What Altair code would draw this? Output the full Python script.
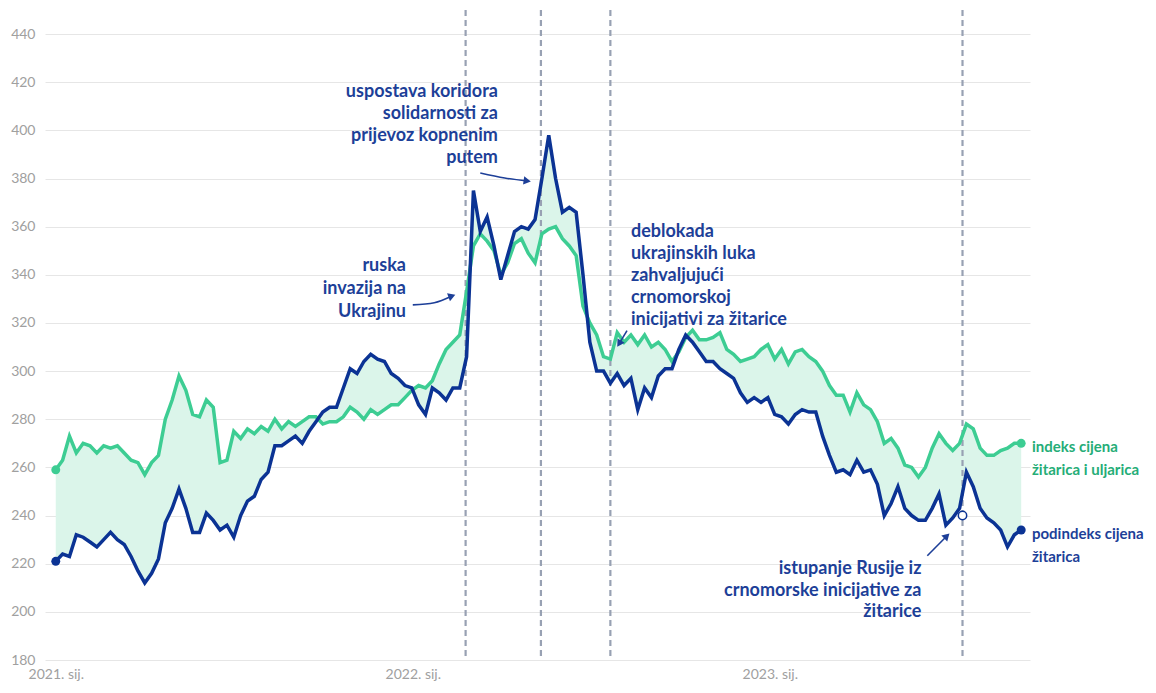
import altair as alt
import pandas as pd

# ---------------- data (weekly readings) ----------------
start_date = "2021-01-01"

indeks = [
    259, 263, 273, 266, 270, 269, 266, 269, 268, 269,
    266, 263, 262, 257, 262, 265, 280, 288, 298, 292,
    282, 281, 288, 285, 262, 263, 275, 272, 276, 274,
    277, 275, 280, 276, 279, 277, 279, 281, 281, 278,
    279, 279, 281, 285, 283, 280, 284, 282, 284, 286,
    286, 289, 292, 294, 293, 296, 303, 309, 312, 315,
    333, 352, 357, 354, 350, 340, 345, 353, 355, 349,
    345, 357, 359, 360, 355, 352, 348, 327, 320, 315,
    306, 305, 316, 312, 315, 311, 315, 310, 312, 309,
    304, 308, 314, 317, 313, 313, 314, 316, 309, 307,
    304, 305, 306, 309, 311, 305, 309, 303, 308, 309,
    306, 304, 300, 294, 290, 290, 283, 291, 286, 284,
    279, 270, 272, 268, 261, 260, 256, 260, 268, 274,
    270, 267, 270, 278, 276, 268, 265, 265, 267, 268,
    270, 270,
]

podindeks = [
    221, 224, 223, 232, 231, 229, 227, 230, 233, 230,
    228, 223, 217, 212, 216, 222, 237, 243, 251, 243,
    233, 233, 241, 238, 234, 236, 231, 240, 246, 248,
    255, 258, 269, 269, 271, 273, 270, 275, 279, 283,
    285, 285, 293, 301, 299, 304, 307, 305, 304, 299,
    297, 294, 293, 286, 282, 293, 291, 288, 293, 293,
    306, 375, 358, 364, 352, 338, 348, 358, 360, 359,
    363, 380, 398, 380, 366, 368, 366, 340, 312, 300,
    300, 295, 299, 294, 297, 284, 293, 289, 298, 301,
    301, 309, 315, 312, 308, 304, 304, 301, 299, 297,
    291, 287, 289, 287, 289, 282, 281, 278, 282, 284,
    283, 283, 273, 265, 258, 259, 257, 263, 258, 259,
    253, 240, 245, 252, 243, 240, 238, 238, 243, 249,
    236, 239, 243, 258, 252, 243, 239, 237, 234, 227,
    232, 234,
]

dates = pd.date_range(start_date, periods=len(indeks), freq="7D")

event_dates = ["2022-02-24", "2022-05-12", "2022-07-22", "2023-07-17"]

y_ticks = [180, 200, 220, 240, 260, 280, 300, 320, 340, 360, 380, 400, 420, 440]
x_tick_years = [2021, 2022, 2023]

# annotation lines: (date, value, text)
ann_right = [  # right-aligned blue texts
    ("2021-12-25", 343.5, "ruska"),
    ("2021-12-25", 334.0, "invazija na"),
    ("2021-12-25", 324.5, "Ukrajinu"),
    ("2022-03-29", 416.0, "uspostava koridora"),
    ("2022-03-29", 406.6, "solidarnosti za"),
    ("2022-03-29", 397.6, "prijevoz kopnenim"),
    ("2022-03-29", 388.5, "putem"),
    ("2023-06-05", 217.9, "istupanje Rusije iz"),
    ("2023-06-05", 208.8, "crnomorske inicijative za"),
    ("2023-06-05", 199.8, "žitarice"),
]
ann_left = [  # left-aligned blue texts
    ("2022-08-12", 357.6, "deblokada"),
    ("2022-08-12", 348.5, "ukrajinskih luka"),
    ("2022-08-12", 339.5, "zahvaljujući"),
    ("2022-08-12", 330.4, "crnomorskoj"),
    ("2022-08-12", 321.3, "inicijativi za žitarice"),
]
lbl_green = [("2023-09-26", 268.6, "indeks cijena"), ("2023-09-26", 259.1, "žitarica i uljarica")]
lbl_blue = [("2023-09-26", 232.3, "podindeks cijena"), ("2023-09-26", 222.9, "žitarica")]

# arrows: (id, date, value)
arrow_pts = [
    (1, "2022-01-01", 327.5), (1, "2022-01-23", 328.4), (1, "2022-02-10", 331.2),
    (2, "2022-03-11", 382.3), (2, "2022-04-05", 380.2), (2, "2022-04-28", 379.0),
    (3, "2022-08-08", 316.8), (3, "2022-07-31", 311.4),
    (4, "2023-06-11", 223.3), (4, "2023-07-01", 231.5),
]
arrow_heads = [
    ("2022-02-10", 331.2, 340),
    ("2022-04-28", 379.0, 8),
    ("2022-07-31", 311.4, 122),
    ("2023-07-01", 231.5, 315),
]
exit_marker = [("2023-07-17", 240)]

# ---------------- styling ----------------
GREEN = "#3dcd93"
GREEN_TXT = "#25ad77"
BLUE = "#0b3394"
BLUE_TXT = "#1d3f98"
AREA = "#dbf5ea"
GRID = "#e6e6e6"
LABEL = "#a0a0a0"
RULE = "#98a1b3"
FONT = "Lato"

df = pd.DataFrame({"datum": dates, "indeks": indeks, "podindeks": podindeks})
ends = pd.concat([df.iloc[[0]], df.iloc[[-1]]])

x_scale = alt.Scale(
    domain=[alt.DateTime(year=2020, month=12, date=21), alt.DateTime(year=2023, month=9, date=24)],
    nice=False,
)
y_scale = alt.Scale(domain=[180, 450], nice=False, zero=False)

x_axis = alt.Axis(
    values=[alt.DateTime(year=y, month=1, date=1) for y in x_tick_years],
    format="%Y. sij.", labelColor=LABEL, labelFontSize=14, labelFont=FONT,
    grid=False, ticks=False, domain=False, labelPadding=7, labelFlush=False, title=None,
)
y_axis = alt.Axis(
    values=y_ticks, grid=True, gridColor=GRID, gridWidth=1, ticks=False, domain=False,
    labelColor=LABEL, labelFontSize=14, labelFont=FONT, labelPadding=10, title=None,
)


def X(field="datum"):
    return alt.X(f"{field}:T", scale=x_scale, axis=x_axis, title=None)


def Y(field):
    return alt.Y(f"{field}:Q", scale=y_scale, axis=y_axis, title=None)


area = alt.Chart(df).mark_area(color=AREA, opacity=1).encode(
    x=X(), y=Y("indeks"), y2="podindeks:Q",
)

events = pd.DataFrame({"datum": pd.to_datetime(event_dates)})
rules = alt.Chart(events).mark_rule(color=RULE, strokeWidth=2.2, strokeDash=[6, 4]).encode(x=X())

line_g = alt.Chart(df).mark_line(color=GREEN, strokeWidth=3.5).encode(x=X(), y=Y("indeks"))
line_b = alt.Chart(df).mark_line(color=BLUE, strokeWidth=3.5).encode(x=X(), y=Y("podindeks"))

dots_g = alt.Chart(ends).mark_circle(color=GREEN, size=80, opacity=1).encode(x=X(), y=Y("indeks"))
dots_b = alt.Chart(ends).mark_circle(color=BLUE, size=80, opacity=1).encode(x=X(), y=Y("podindeks"))

exit_df = pd.DataFrame({"datum": pd.to_datetime([d for d, _ in exit_marker]), "v": [v for _, v in exit_marker]})
exit_pt = alt.Chart(exit_df).mark_point(color=BLUE, fill="white", filled=False, size=70, strokeWidth=1.5, opacity=1).encode(
    x=X(), y=Y("v")
)


def text_df(rows):
    return pd.DataFrame({
        "datum": pd.to_datetime([r[0] for r in rows]),
        "v": [r[1] for r in rows],
        "t": [r[2] for r in rows],
    })


txt_r = alt.Chart(text_df(ann_right)).mark_text(
    align="right", baseline="middle", font=FONT, fontSize=18, fontWeight="bold", color=BLUE_TXT
).encode(x=X(), y=Y("v"), text="t:N")
txt_l = alt.Chart(text_df(ann_left)).mark_text(
    align="left", baseline="middle", font=FONT, fontSize=18, fontWeight="bold", color=BLUE_TXT
).encode(x=X(), y=Y("v"), text="t:N")
txt_g = alt.Chart(text_df(lbl_green)).mark_text(
    align="left", baseline="middle", font=FONT, fontSize=15, fontWeight="bold", color=GREEN_TXT
).encode(x=X(), y=Y("v"), text="t:N")
txt_b = alt.Chart(text_df(lbl_blue)).mark_text(
    align="left", baseline="middle", font=FONT, fontSize=15, fontWeight="bold", color=BLUE_TXT
).encode(x=X(), y=Y("v"), text="t:N")

arr_df = pd.DataFrame({
    "id": [a[0] for a in arrow_pts],
    "datum": pd.to_datetime([a[1] for a in arrow_pts]),
    "v": [a[2] for a in arrow_pts],
    "ord": list(range(len(arrow_pts))),
})
arrows = alt.Chart(arr_df).mark_line(color=BLUE_TXT, strokeWidth=1.6, interpolate="monotone").encode(
    x=X(), y=Y("v"), detail="id:N", order="ord:Q"
)
head_df = pd.DataFrame({
    "datum": pd.to_datetime([h[0] for h in arrow_heads]),
    "v": [h[1] for h in arrow_heads],
    "rot": [h[2] for h in arrow_heads],
})
heads = alt.Chart(head_df).mark_point(shape="triangle-right", filled=True, color=BLUE_TXT, size=70, opacity=1).encode(
    x=X(), y=Y("v"), angle=alt.Angle("rot:Q", scale=None)
)

chart = alt.layer(
    area, rules, line_g, line_b, dots_g, dots_b, exit_pt,
    arrows, heads, txt_r, txt_l, txt_g, txt_b,
).properties(
    width=985, height=650,
    autosize=alt.AutoSizeParams(type="none"),
    padding={"left": 37, "top": 2, "right": 118, "bottom": 22},
).configure(font=FONT, background="white").configure_view(stroke=None)

chart.save("out.html", embed_options={"renderer": "svg", "actions": False})
